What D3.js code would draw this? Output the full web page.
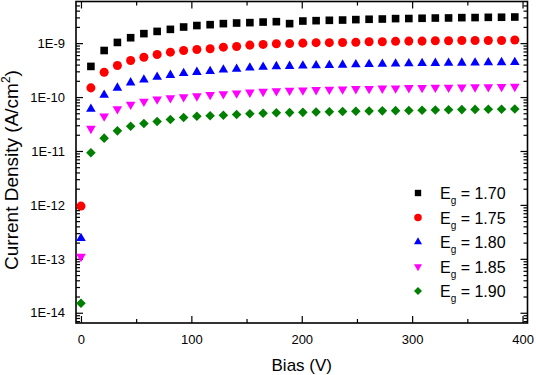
<!DOCTYPE html>
<html>
<head>
<meta charset="utf-8">
<script src="https://cdn.jsdelivr.net/npm/d3@7"></script>
<style>
    body { margin: 0; background: #fff; }
    svg { display: block; font-family: Arial, "Liberation Sans", sans-serif; }
    .axis text { font-size: 13px; fill: #000; }
    .axis path, .axis line { stroke: #000; }
</style>
</head>
<body>
<div id="chart"></div>
<script>
// bias voltages (V)
const bias = [0, 9, 21, 33, 45, 57, 69, 81, 93, 105, 117, 129, 141, 153, 165, 177, 189,
    201, 213, 225, 237, 249, 261, 273, 285, 297, 309, 321, 333, 345, 357, 369, 381, 393];

const bandgapLabels = ['1.70', '1.75', '1.80', '1.85', '1.90'];

// current density (A/cm^2), one array per bandgap; null = no point
const eg170 = [null, 3.7e-10, 7.3e-10, 1.03e-9, 1.26e-9, 1.5e-9, 1.65e-9, 1.8e-9, 1.99e-9, 2.12e-9,
    2.2e-9, 2.3e-9, 2.36e-9, 2.4e-9, 2.46e-9, 2.5e-9, 2.3e-9, 2.57e-9, 2.61e-9, 2.65e-9, 2.68e-9,
    2.73e-9, 2.77e-9, 2.8e-9, 2.85e-9, 2.86e-9, 2.89e-9, 2.92e-9, 2.93e-9, 2.97e-9, 2.98e-9, 3.01e-9,
    3.02e-9, 3.05e-9];
const eg175 = [9.5e-13, 1.48e-10, 2.88e-10, 3.84e-10, 4.76e-10, 5.48e-10, 6.16e-10, 6.8e-10, 7.31e-10,
    7.63e-10, 7.87e-10, 8.42e-10, 8.68e-10, 9.18e-10, 9.46e-10, 9.75e-10, 9.8e-10, 1.0e-9, 1.02e-9,
    1.02e-9, 1.03e-9, 1.04e-9, 1.06e-9, 1.06e-9, 1.08e-9, 1.09e-9, 1.09e-9, 1.11e-9, 1.11e-9, 1.12e-9,
    1.12e-9, 1.12e-9, 1.12e-9, 1.14e-9];
const eg180 = [2.4e-13, 6.0e-11, 1.09e-10, 1.48e-10, 1.85e-10, 2.1e-10, 2.35e-10, 2.55e-10, 2.76e-10,
    2.9e-10, 3.0e-10, 3.2e-10, 3.3e-10, 3.5e-10, 3.6e-10, 3.7e-10, 3.75e-10, 3.8e-10, 3.85e-10, 3.9e-10,
    3.95e-10, 4.0e-10, 4.05e-10, 4.1e-10, 4.15e-10, 4.2e-10, 4.22e-10, 4.25e-10, 4.28e-10, 4.3e-10,
    4.33e-10, 4.36e-10, 4.4e-10, 4.43e-10];
const eg185 = [1.1e-13, 2.6e-11, 4.4e-11, 6.0e-11, 7.3e-11, 8.3e-11, 9.1e-11, 9.6e-11, 1.0e-10, 1.04e-10,
    1.1e-10, 1.14e-10, 1.18e-10, 1.22e-10, 1.26e-10, 1.3e-10, 1.32e-10, 1.34e-10, 1.36e-10, 1.38e-10,
    1.4e-10, 1.42e-10, 1.43e-10, 1.45e-10, 1.46e-10, 1.48e-10, 1.49e-10, 1.5e-10, 1.51e-10, 1.52e-10,
    1.53e-10, 1.54e-10, 1.55e-10, 1.56e-10];
const eg190 = [1.5e-14, 9.3e-12, 1.73e-11, 2.36e-11, 2.88e-11, 3.23e-11, 3.52e-11, 3.84e-11, 4.18e-11,
    4.4e-11, 4.5e-11, 4.6e-11, 4.75e-11, 4.9e-11, 5.0e-11, 5.1e-11, 5.15e-11, 5.2e-11, 5.28e-11, 5.35e-11,
    5.4e-11, 5.45e-11, 5.5e-11, 5.55e-11, 5.6e-11, 5.65e-11, 5.7e-11, 5.75e-11, 5.8e-11, 5.85e-11,
    5.9e-11, 5.93e-11, 5.96e-11, 6.0e-11];

const seriesValues = [eg170, eg175, eg180, eg185, eg190];

// axis ticks
const xMajorTicks = [0, 100, 200, 300, 400];
const xMinorTicks = [50, 150, 250, 350];
const yMajorTicks = [1e-14, 1e-13, 1e-12, 1e-11, 1e-10, 1e-9];

class BiasPlot {

    constructor(_config) {
        this.config = {
            parentElement: _config.parentElement,
            containerWidth: 536,
            containerHeight: 375,
            margin: {top: 1.5, right: 8.5, bottom: 52, left: 76},
            xDomain: [-4.5, 404.5],
            yDomain: [Math.pow(10, -14.19), Math.pow(10, -8.228)],
            majorTick: 7,
            minorTick: 4,
            colors: ['#000000', '#ff0000', '#0000ff', '#ff00ff', '#008000'],
            legendX: 418,
            legendY: 193,
            legendRowHeight: 24.5
        };
        this.initVis();
    }

    initVis() {
        let vis = this;
        const m = vis.config.margin;
        vis.width = vis.config.containerWidth - m.left - m.right;
        vis.height = vis.config.containerHeight - m.top - m.bottom;

        vis.xScale = d3.scaleLinear().domain(vis.config.xDomain).range([0, vis.width]);
        vis.yScale = d3.scaleLog().domain(vis.config.yDomain).range([vis.height, 0]);

        // minor log ticks: 2..9 of every decade inside the domain
        vis.yMinorTicks = [];
        for (let e = -15; e <= -9; e++) {
            for (let k = 2; k <= 9; k++) {
                const v = k * Math.pow(10, e);
                if (v >= vis.config.yDomain[0] && v <= vis.config.yDomain[1]) vis.yMinorTicks.push(v);
            }
        }

        // marker shapes: square, circle, up triangle, down triangle, diamond
        vis.shapes = [
            {type: d3.symbolSquare, size: 58, rotate: 0},
            {type: d3.symbolCircle, size: 64, rotate: 0},
            {type: d3.symbolTriangle, size: 40, rotate: 0},
            {type: d3.symbolTriangle, size: 40, rotate: 180},
            {type: d3.symbolSquare, size: 46, rotate: 45}
        ];

        vis.svg = d3.select(vis.config.parentElement).append('svg')
            .attr('width', vis.config.containerWidth)
            .attr('height', vis.config.containerHeight);

        vis.chart = vis.svg.append('g')
            .attr('transform', `translate(${m.left},${m.top})`);

        vis.renderVis();
        vis.renderLegend();
    }

    renderVis() {
        let vis = this;
        const cfg = vis.config;

        // inward ticks on all four sides
        const xMajor = (axis) => axis(vis.xScale).tickValues(xMajorTicks).tickSizeInner(-cfg.majorTick).tickSizeOuter(0);
        const xMinor = (axis) => axis(vis.xScale).tickValues(xMinorTicks).tickSizeInner(-cfg.minorTick).tickSizeOuter(0).tickFormat('');
        const yMajor = (axis) => axis(vis.yScale).tickValues(yMajorTicks).tickSizeInner(-cfg.majorTick).tickSizeOuter(0);
        const yMinor = (axis) => axis(vis.yScale).tickValues(vis.yMinorTicks).tickSizeInner(-cfg.minorTick).tickSizeOuter(0).tickFormat('');

        vis.chart.append('g').attr('class', 'axis').attr('transform', `translate(0,${vis.height})`)
            .call(xMajor(d3.axisBottom).tickPadding(12).tickFormat(d3.format('d')));
        vis.chart.append('g').attr('class', 'axis').attr('transform', `translate(0,${vis.height})`)
            .call(xMinor(d3.axisBottom));
        vis.chart.append('g').attr('class', 'axis')
            .call(xMajor(d3.axisTop).tickFormat(''));
        vis.chart.append('g').attr('class', 'axis')
            .call(xMinor(d3.axisTop));

        vis.chart.append('g').attr('class', 'axis')
            .call(yMajor(d3.axisLeft).tickPadding(11).tickFormat(d => '1E' + Math.round(Math.log10(d))));
        vis.chart.append('g').attr('class', 'axis')
            .call(yMinor(d3.axisLeft));
        vis.chart.append('g').attr('class', 'axis').attr('transform', `translate(${vis.width},0)`)
            .call(yMajor(d3.axisRight).tickFormat(''));
        vis.chart.append('g').attr('class', 'axis').attr('transform', `translate(${vis.width},0)`)
            .call(yMinor(d3.axisRight));

        vis.chart.selectAll('.axis .domain').remove();
        vis.chart.selectAll('.axis line').attr('stroke-width', 1.2);

        // frame
        vis.chart.append('rect')
            .attr('width', vis.width)
            .attr('height', vis.height)
            .attr('fill', 'none')
            .attr('stroke', '#000')
            .attr('stroke-width', 1.6);

        // markers
        seriesValues.forEach((values, s) => {
            const shape = vis.shapes[s];
            const points = values.map((v, i) => ({bias: bias[i], current: v})).filter(d => d.current !== null);
            vis.chart.append('g')
                .attr('class', 'series')
                .selectAll('path')
                .data(points)
                .join('path')
                .attr('transform', d => `translate(${vis.xScale(d.bias)},${vis.yScale(d.current)}) rotate(${shape.rotate})`)
                .attr('d', d3.symbol().type(shape.type).size(shape.size))
                .attr('fill', cfg.colors[s]);
        });

        // axis titles
        vis.svg.append('text')
            .attr('x', cfg.margin.left + vis.xScale(200))
            .attr('y', 371)
            .attr('text-anchor', 'middle')
            .attr('font-size', 17)
            .text('Bias (V)');

        const yTitle = vis.svg.append('text')
            .attr('transform', 'translate(18,170) rotate(-90)')
            .attr('text-anchor', 'middle')
            .attr('font-size', 19);
        yTitle.append('tspan').text('Current Density (A/cm');
        yTitle.append('tspan').attr('font-size', 12).attr('dy', -8).text('2');
        yTitle.append('tspan').attr('dy', 8).text(')');
    }

    renderLegend() {
        let vis = this;
        const cfg = vis.config;

        const cell = vis.svg.append('g')
            .selectAll('.legend-cell')
            .data(bandgapLabels)
            .join('g')
            .attr('class', 'legend-cell')
            .attr('transform', (d, i) => `translate(${cfg.legendX},${cfg.legendY + i * cfg.legendRowHeight})`);

        cell.append('path')
            .attr('transform', (d, i) => `rotate(${vis.shapes[i].rotate})`)
            .attr('d', (d, i) => d3.symbol().type(vis.shapes[i].type).size(vis.shapes[i].size * 0.7)())
            .attr('fill', (d, i) => cfg.colors[i]);

        const label = cell.append('text')
            .attr('x', 22)
            .attr('y', 6)
            .attr('font-size', 16);
        label.append('tspan').text('E');
        label.append('tspan').attr('font-size', 10).attr('dy', 5).text('g');
        label.append('tspan').attr('dy', -5).text(d => ` = ${d}`);
    }
}

const plot = new BiasPlot({parentElement: '#chart'});
</script>
</body>
</html>
